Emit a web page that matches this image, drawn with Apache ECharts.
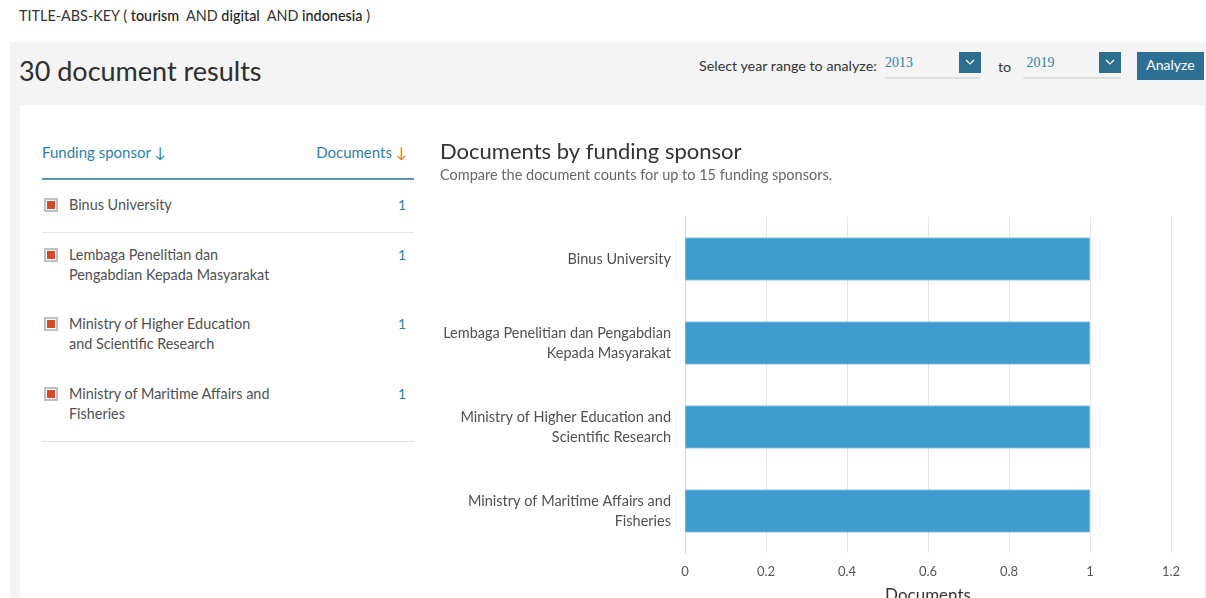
<!DOCTYPE html>
<html><head><meta charset="utf-8">
<script src="https://cdn.jsdelivr.net/npm/echarts@6/dist/echarts.min.js"></script>
<style>
html,body{margin:0;padding:0;width:1206px;height:598px;overflow:hidden;background:#fff;font-family:Lato,"Open Sans",sans-serif;color:#505050}
.abs{position:absolute}
#query{left:19px;top:7px;font-size:14.4px;color:#333;white-space:nowrap}
#panel{left:10px;top:42px;width:1196px;height:556px;background:#f4f4f4}
#card{left:20px;top:105px;width:1184px;height:493px;background:#fff}
#results{left:19px;top:54px;font-size:27px;color:#2e2e2e}
.sel{font-size:14.3px;color:#333}
.yr{font-size:14px;color:#2e7fa8;border-bottom:2px solid #e0e0e0;height:22px;font-family:"Liberation Serif",serif}
.dd{width:22px;height:21px;background:#2e6e8e}
.dd svg{position:absolute;left:6px;top:6px}
#btn{left:1137px;top:52px;width:67px;height:28px;background:#2e7094;color:#fff;font-size:14px;text-align:center;line-height:26px}
#thead1{left:42px;top:143px;font-size:15px;color:#2e7fa8}
#thead2{right:799px;top:143px;font-size:15px;color:#2e7fa8;white-space:nowrap}
#hline{left:42px;top:178px;width:372px;height:2px;background:#5a92b3}
.row{left:42px;width:372px}
.cb{position:absolute;left:2px;top:3px;width:10px;height:10px;border:2px solid #c0c0c0;background:#fff}
.cb i{position:absolute;left:1px;top:1px;width:8px;height:8px;background:#d64a26}
.nm{position:absolute;left:27px;top:0;width:207px;font-size:14.4px;line-height:20px;color:#505050}
.ct{position:absolute;right:8px;top:0;font-size:14px;line-height:20px;color:#2e7fa8}
.div{left:42px;width:372px;height:1px;background:#e6e6e6}
#chart{left:430px;top:105px;width:776px;height:493px}
</style></head><body>
<div class="abs" id="panel"></div>
<div class="abs" id="card"></div>
<div class="abs" id="query">TITLE-ABS-KEY ( <b style="font-weight:500;color:#222">tourism</b>&nbsp; AND <b style="font-weight:500;color:#222">digital</b>&nbsp; AND <b style="font-weight:500;color:#222">indonesia</b> )</div>
<div class="abs" id="results">30 document results</div>
<div class="abs sel" style="left:699px;top:57px">Select year range to analyze:</div>
<div class="abs yr" style="left:885px;top:55px;width:96px">2013</div>
<div class="abs dd" style="left:959px;top:52px"><svg width="10" height="8"><polyline points="1,2 5,6 9,2" fill="none" stroke="#fff" stroke-width="1.2"/></svg></div>
<div class="abs sel" style="left:998px;top:58px">to</div>
<div class="abs yr" style="left:1023px;top:55px;width:98px">&nbsp;2019</div>
<div class="abs dd" style="left:1099px;top:52px"><svg width="10" height="8"><polyline points="1,2 5,6 9,2" fill="none" stroke="#fff" stroke-width="1.2"/></svg></div>
<div class="abs" id="btn">Analyze</div>
<div class="abs" id="thead1">Funding sponsor &#8595;</div>
<div class="abs" id="thead2">Documents <span style="color:#e9711c">&#8595;</span></div>
<div class="abs" id="hline"></div>
<div class="abs div" style="top:232px"></div>
<div class="abs div" style="top:441px"></div>
<div id="rows"></div>
<div class="abs" id="chart"></div>
<script>
// Data
const sponsors = [
  "Binus University",
  "Lembaga Penelitian dan Pengabdian Kepada Masyarakat",
  "Ministry of Higher Education and Scientific Research",
  "Ministry of Maritime Affairs and Fisheries"
];
const chartLabels = [
  "Binus University",
  "Lembaga Penelitian dan Pengabdian\nKepada Masyarakat",
  "Ministry of Higher Education and\nScientific Research",
  "Ministry of Maritime Affairs and\nFisheries"
];
const documents = [1, 1, 1, 1];
const xTicks = [0, 0.2, 0.4, 0.6, 0.8, 1, 1.2];

// Left table
const rowTops = [195, 245, 314, 384];
const rowsEl = document.getElementById('rows');
sponsors.forEach((s, i) => {
  const d = document.createElement('div');
  d.className = 'abs row';
  d.style.top = rowTops[i] + 'px';
  d.innerHTML = '<div class="cb"><i></i></div><div class="nm">' + s + '</div><div class="ct">' + documents[i] + '</div>';
  rowsEl.appendChild(d);
});

const chart = echarts.init(document.getElementById('chart'));
chart.setOption({
  animation: false,
  title: {
    text: 'Documents by funding sponsor',
    subtext: 'Compare the document counts for up to 15 funding sponsors.',
    left: 5, top: 31, itemGap: 5,
    textStyle: {fontFamily: 'Lato', fontSize: 22, fontWeight: 'normal', color: '#333'},
    subtextStyle: {fontFamily: 'Lato', fontSize: 14.5, color: '#666'}
  },
  grid: {left: 255, right: 35, top: 112, bottom: 45, outerBoundsMode: 'none', containLabel: false},
  xAxis: {
    type: 'value', min: 0, max: 1.2, interval: 0.2,
    name: 'Documents', nameLocation: 'middle', nameGap: 34,
    nameTextStyle: {fontFamily: 'Lato', fontSize: 17, color: '#333'},
    axisLine: {show: false}, axisTick: {show: false},
    axisLabel: {fontFamily: 'Lato', fontSize: 13, color: '#555', margin: 12,
      formatter: v => { const t = xTicks.find(x => Math.abs(x - v) < 1e-9); return t === undefined ? '' : String(t); }},
    splitLine: {lineStyle: {color: '#e6e6e6'}}
  },
  yAxis: {
    type: 'category', data: chartLabels, inverse: true,
    axisLine: {lineStyle: {color: '#ccd6eb'}}, axisTick: {show: false},
    axisLabel: {fontFamily: 'Lato', fontSize: 14.5, color: '#505050', margin: 14, align: 'right', lineHeight: 20}
  },
  series: [{
    type: 'bar', data: documents, barWidth: '51%',
    itemStyle: {color: '#3d9dcf', borderColor: '#6fb7dc', borderWidth: 1}
  }]
});
</script>
</body></html>
